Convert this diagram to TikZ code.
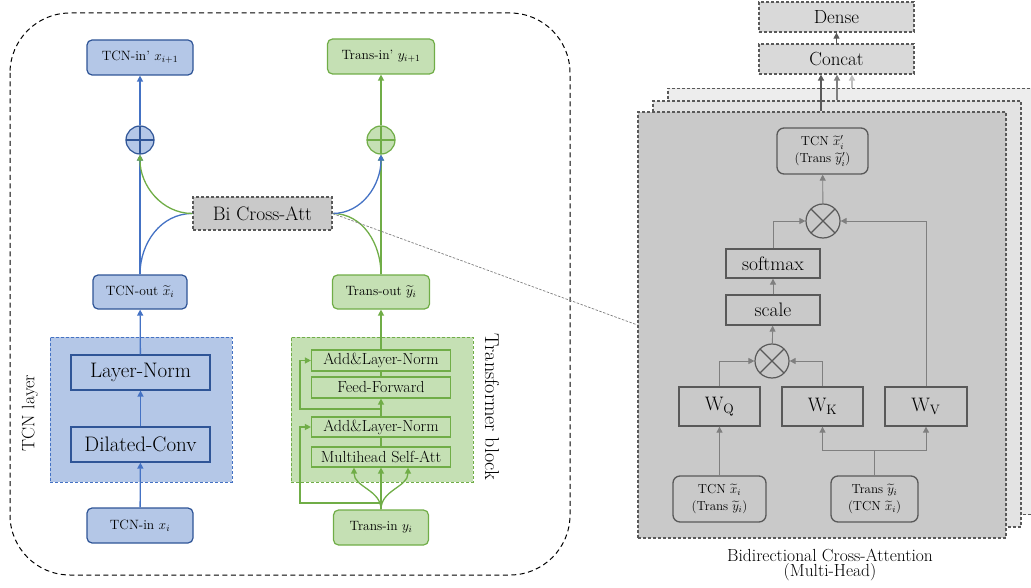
\RequirePackage{fix-cm}
\documentclass[tikz,border=0pt]{standalone}
\usepackage{amsmath,amssymb}
\usetikzlibrary{arrows.meta}
\definecolor{tcnfill}{HTML}{B4C7E7}
\definecolor{tcnedge}{HTML}{2F5597}
\definecolor{tcnline}{HTML}{4472C4}
\definecolor{transfill}{HTML}{C5E0B4}
\definecolor{transline}{HTML}{70AD47}
\definecolor{attfill}{HTML}{C9C9C9}
\definecolor{headdark}{HTML}{595959}
\definecolor{headmid}{HTML}{7F7F7F}
\definecolor{headlight}{HTML}{BFBFBF}

\begin{document}
\begin{tikzpicture}[x=1pt,y=1pt,
    >={Triangle[length=6pt,width=6pt]},
    tcnbox/.style={draw=tcnedge, fill=tcnfill, line width=1.2pt, rounded corners=5pt,
        inner sep=0pt, font=\fontsize{13.5}{15}\selectfont},
    transbox/.style={draw=transline, fill=transfill, line width=1.2pt, rounded corners=5pt,
        inner sep=0pt, font=\fontsize{13.5}{15}\selectfont},
    tcnstep/.style={draw=tcnedge, fill=tcnfill, line width=1.2pt, inner sep=0pt,
        minimum width=139pt, minimum height=35pt, font=\fontsize{21}{22}\selectfont},
    transstep/.style={draw=transline, fill=transfill, line width=1.2pt, inner sep=0pt,
        minimum width=139pt, font=\fontsize{16}{17}\selectfont},
    blockbg/.style={line width=1pt, dash pattern=on 3pt off 2pt, inner sep=0pt,
        minimum width=182pt, minimum height=145pt},
    oplus/.style={circle, draw=#1, line width=1.2pt, minimum size=28pt, inner sep=0pt,
        path picture={\draw[#1, line width=1.2pt]
            (path picture bounding box.north) -- (path picture bounding box.south)
            (path picture bounding box.west) -- (path picture bounding box.east);}},
    otimes/.style={circle, draw=headdark, line width=1.2pt, minimum size=34pt, inner sep=0pt,
        fill=attfill, path picture={\draw[headdark, line width=1.2pt]
            (path picture bounding box.north west) -- (path picture bounding box.south east)
            (path picture bounding box.north east) -- (path picture bounding box.south west);}},
    tcnarrow/.style={->, draw=tcnline, line width=1.3pt},
    transarrow/.style={->, draw=transline, line width=1.3pt},
    dashbox/.style={draw=headdark, line width=1.2pt, dash pattern=on 3pt off 2pt,
        inner sep=0pt, font=\fontsize{19}{20}\selectfont},
    headpanel/.style={draw=headdark, line width=1.2pt, dash pattern=on 3pt off 2pt,
        minimum width=368pt, minimum height=426pt, inner sep=0pt},
    headbox/.style={draw=headdark, line width=1.3pt, fill=attfill, inner sep=0pt,
        font=\fontsize{19.5}{21}\selectfont},
    headround/.style={draw=headdark, line width=1.3pt, fill=attfill, rounded corners=7pt,
        inner sep=0pt, align=center, font=\fontsize{13}{17}\selectfont},
    headtip/.style={->, draw=headmid, line width=0.9pt}
    ]
    \useasboundingbox (0,0) rectangle (1031,-588);

    % outer frame
    \draw[black, line width=1pt, dash pattern=on 5pt off 3.5pt, rounded corners=60pt]
        (10,-13) rectangle (570,-575);

    % TCN layer
    \node[blockbg, draw=tcnline, fill=tcnfill] (tcnblock) at (141,-409.5) {};
    \node[rotate=90, font=\fontsize{18}{20}\selectfont] (tcnlabel) at (30,-413) {TCN layer};
    \node[tcnstep] (layernorm) at (140.5,-372.5) {Layer-Norm};
    \node[tcnstep] (dilconv) at (140.5,-444.5) {Dilated-Conv};
    \node[tcnbox, minimum width=106pt, minimum height=35pt] (tcnin) at (140,-525.5) {TCN-in $x_i$};
    \node[tcnbox, minimum width=94pt, minimum height=34pt] (tcnout) at (140,-292) {TCN-out $\widetilde{x}_i$};
    \node[oplus=tcnedge, fill=tcnfill] (tcnplus) at (140,-140) {};
    \node[tcnbox, minimum width=106pt, minimum height=35pt] (tcnnext) at (140,-57.5) {TCN-in' $x_{i+1}$};

    % Transformer block
    \node[blockbg, draw=transline, fill=transfill] (transblock) at (382,-409.5) {};
    \node[rotate=-90, font=\fontsize{20}{22}\selectfont] (translabel) at (492,-407) {Transformer block};
    \node[transstep, minimum height=21pt] (addnormtop) at (381,-360.5) {Add\&Layer-Norm};
    \node[transstep, minimum height=21pt] (feedfwd) at (381,-387.5) {Feed-Forward};
    \node[transstep, minimum height=20pt] (addnormbot) at (381,-427) {Add\&Layer-Norm};
    \node[transstep, minimum height=20pt] (selfatt) at (381,-457) {Multihead Self-Att};
    \node[transbox, minimum width=95pt, minimum height=35pt] (transin) at (381,-527.5) {Trans-in $y_i$};
    \node[transbox, minimum width=97pt, minimum height=34pt] (transout) at (381,-292) {Trans-out $\widetilde{y}_i$};
    \node[oplus=transline, fill=transfill] (transplus) at (381,-140) {};
    \node[transbox, minimum width=107pt, minimum height=35pt] (transnext) at (381,-56.5) {Trans-in' $y_{i+1}$};

    % cross attention
    \node[dashbox, fill=attfill, minimum width=139pt, minimum height=33pt,
        font=\fontsize{19.5}{21}\selectfont] (bicross) at (262.5,-213.5) {Bi Cross-Att};

    % TCN flow
    \draw[tcnarrow] (tcnin) -- (dilconv);
    \draw[tcnarrow] (dilconv) -- (layernorm);
    \draw[tcnarrow] (layernorm) -- (tcnout);
    \draw[tcnarrow] (tcnout) -- (tcnplus);
    \draw[tcnarrow] (tcnplus) -- (tcnnext);

    % Transformer flow
    \coordinate (skipa) at (300,-503);
    \coordinate (branchb) at (381,-409);
    \coordinate (skipb) at (300,-409);
    \draw[transarrow] (transin.north) -- (selfatt.south);
    \draw[transarrow] (transin.north) to[out=90,in=-90] (selfatt.south -| 354,0);
    \draw[transarrow] (transin.north) to[out=90,in=-90] (selfatt.south -| 408,0);
    \draw[transline, line width=1.3pt] (selfatt) -- (addnormbot);
    \draw[transarrow] (addnormbot) -- (feedfwd);
    \draw[transline, line width=1.3pt] (feedfwd) -- (addnormtop);
    \draw[transarrow] (transin.north) |- (skipa) |- (addnormbot.west);
    \draw[transarrow] (branchb) -- (skipb) |- (addnormtop.west);
    \draw[transarrow] (addnormtop) -- (transout);
    \draw[transarrow] (transout) -- (transplus);
    \draw[transarrow] (transplus) -- (transnext);

    % exchange through Bi Cross-Att
    \draw[tcnline, line width=1.3pt] (tcnout.north) to[out=90,in=180] (bicross.west);
    \draw[transarrow] (bicross.west) to[out=180,in=-90] (tcnplus.south);
    \draw[transline, line width=1.3pt] (transout.north) to[out=90,in=0] (bicross.east);
    \draw[tcnarrow] (bicross.east) to[out=0,in=-90] (transplus.south);

    % heads
    \node[headpanel, fill=black!7] (heada) at (852,-301.5) {};
    \node[headpanel, fill=black!11] (headb) at (837,-314) {};
    \node[headpanel, fill=attfill] (headc) at (822,-325) {};
    \draw[headmid, line width=0.7pt, dash pattern=on 2.5pt off 1.5pt] (bicross.east) -- (headc.west);

    \node[dashbox, fill=black!15, minimum width=155pt, minimum height=30pt] (dense) at (836.5,-17) {Dense};
    \node[dashbox, fill=black!15, minimum width=155pt, minimum height=30pt] (concat) at (836.5,-59) {Concat};
    \draw[->, headdark, line width=2.2pt] (headc.north -| 821,0) -- (concat.south -| 821,0);
    \draw[->, headmid, line width=2pt] (headb.north) -- (concat.south -| headb.north);
    \draw[->, headlight, line width=2pt] (heada.north) -- (concat.south -| heada.north);
    \draw[headtip, draw=headdark] (concat) -- (dense);

    % one head
    \node[headround, minimum width=91pt, minimum height=46pt] (outbox) at (822.5,-151)
        {TCN $\widetilde{x}_i'$\\(Trans $\widetilde{y}_i'$)};
    \node[otimes] (topmul) at (823,-221) {};
    \node[headbox, minimum width=94pt, minimum height=29pt] (softmax) at (773,-263.5) {softmax};
    \node[headbox, minimum width=94pt, minimum height=30pt] (scale) at (773,-310) {scale};
    \node[otimes] (lowmul) at (772,-361) {};
    \node[headbox, minimum width=81pt, minimum height=39pt] (wq) at (719.5,-406.5) {$\mathrm{W}_{\mathrm{Q}}$};
    \node[headbox, minimum width=81pt, minimum height=39pt] (wk) at (822.5,-406.5) {$\mathrm{W}_{\mathrm{K}}$};
    \node[headbox, minimum width=82pt, minimum height=39pt] (wv) at (926,-406.5) {$\mathrm{W}_{\mathrm{V}}$};
    \node[headround, minimum width=93pt, minimum height=46pt] (inleft) at (719.5,-499)
        {TCN $\widetilde{x}_i$\\(Trans $\widetilde{y}_i$)};
    \node[headround, minimum width=87pt, minimum height=46pt] (inright) at (874.5,-499)
        {Trans $\widetilde{y}_i$\\(TCN $\widetilde{x}_i$)};

    \coordinate (kvsplit) at (874.5,-450);
    \draw[headtip] (inleft) -- (wq);
    \draw[headmid, line width=0.9pt] (inright.north) -- (kvsplit);
    \draw[headtip] (kvsplit) -| (wk.south);
    \draw[headtip] (kvsplit) -| (wv.south);
    \draw[headtip] (wq.north) |- (lowmul.west);
    \draw[headtip] (wk.north) |- (lowmul.east);
    \draw[headtip] (lowmul) -- (scale);
    \draw[headtip] (scale) -- (softmax);
    \draw[headtip] (softmax.north) |- (topmul.west);
    \draw[headtip] (wv.north) |- (topmul.east);
    \draw[headtip] (topmul) -- (outbox);

    \node[align=center, font=\fontsize{17.5}{15}\selectfont] (caption) at (830,-565)
        {Bidirectional Cross-Attention\\(Multi-Head)};
\end{tikzpicture}
\end{document}
